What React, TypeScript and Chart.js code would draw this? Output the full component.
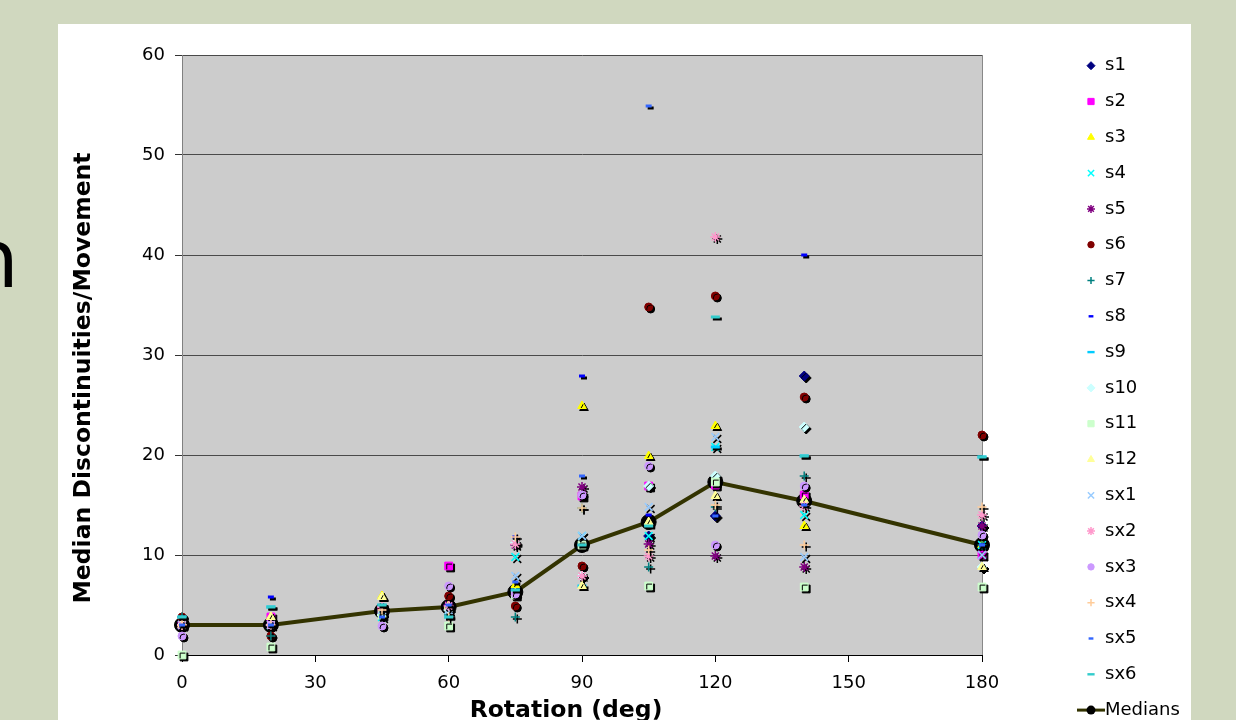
import React, { useEffect, useRef } from "react";
import { Chart, registerables } from "chart.js";
import { drawPoint } from "chart.js/helpers";

Chart.register(...registerables);

// ---------- data ----------
const rotations = [0, 20, 45, 60, 75, 90, 105, 120, 140, 180];
const xTickValues = [0, 30, 60, 90, 120, 150, 180];
const yTickValues = [0, 10, 20, 30, 40, 50, 60];

const s1 = [3, 3, 4, 5, 6.5, 11, 11.9, 13.9, 27.9, 12.9];
const s2 = [3, 3.8, 4.5, 8.9, 6.2, 15.9, 16.9, 17, 16, 10];
const s3 = [3.2, 3.8, 5.9, 5, 7, 24.9, 19.9, 22.9, 12.9, 11];
const s4 = [3, 3, 3.8, 4.5, 9.8, 11.9, 11.9, 20.8, 14, 11];
const s5 = [3, 3, 4.5, 5, 11, 16.8, 11.1, 9.9, 8.8, 12.9];
const s6 = [3.8, 1.9, 4.5, 5.9, 4.9, 8.9, 34.8, 35.9, 25.8, 22];
const s7 = [3.8, 1.9, 4.5, 4, 3.8, 14.7, 8.8, 14.8, 17.9, 11];
const s8 = [3, 5.8, 4, 5, 11.8, 27.9, 14, 17.5, 40, 11];
const s9 = [3.8, 4.8, 5, 3.8, 6.5, 6.9, 13, 20.8, 19.9, 19.8];
const s10 = [3, 3, 4, 4.5, 11.2, 7.9, 16.9, 17.9, 22.8, 8.8];
const s11 = [0, 0.8, 4, 2.9, 6, 11, 6.9, 17.3, 6.8, 6.8];
const s12 = [3, 3.8, 5.8, 4.9, 6.2, 6.9, 13.3, 15.9, 15.5, 8.8];
const sx1 = [3, 3, 4.5, 4.5, 7.9, 11.9, 14.8, 21.8, 9.8, 10];
const sx2 = [3, 3, 4.8, 4.9, 11.1, 7.9, 9.9, 41.8, 14.9, 14];
const sx3 = [1.9, 3, 2.9, 6.9, 6.1, 16, 18.9, 11, 16.9, 12];
const sx4 = [3, 3, 4.5, 3.8, 11.8, 14.7, 10.5, 15, 11, 14.8];
const sx5 = [3, 3, 3.8, 5, 7.3, 17.9, 54.9, 13.9, 15, 11];
const sx6 = [3.8, 4.8, 5, 3.8, 6.5, 11, 12.9, 33.8, 19.9, 19.8];
const medians = [3, 3, 4.4, 4.8, 6.3, 11, 13.3, 17.3, 15.4, 11];

const seriesNames = ["s1", "s2", "s3", "s4", "s5", "s6", "s7", "s8", "s9", "s10", "s11", "s12", "sx1", "sx2", "sx3", "sx4", "sx5", "sx6"];
const seriesValues = [s1, s2, s3, s4, s5, s6, s7, s8, s9, s10, s11, s12, sx1, sx2, sx3, sx4, sx5, sx6];
const medianLabel = "Medians";

const xTitle = "Rotation (deg)";
const yTitle = "Median Discontinuities/Movement";

// ---------- styles ----------
const seriesColors = ["#000080", "#FF00FF", "#FFFF00", "#00FFFF", "#800080", "#800000", "#008080", "#0000FF", "#00CCFF", "#CCFFFF", "#CCFFCC", "#FFFF99", "#99CCFF", "#FF99CC", "#CC99FF", "#FFCC99", "#3366FF", "#33CCCC"];
const markerShapes = ["rectRot", "rect", "triangle", "crossRot", "star", "circle", "cross", "line", "line", "rectRot", "rect", "triangle", "crossRot", "star", "circle", "cross", "line", "line"];
const markerRadii = [5, 5.5, 5, 5.5, 5, 4, 4.5, 3, 4.5, 5, 5.5, 5, 5.5, 5, 4, 4.5, 3, 4.5];
const markerBorders = [1, 1, 1, 1.5, 1.5, 1, 1.5, 3, 3, 1, 1, 1, 1.5, 1.5, 1, 1.5, 3, 3];
const medianLineColor = "#333300";

const FONT = "'DejaVu Sans', Verdana, sans-serif";
const PAGE_BG = "#d0d8bf";
const PLOT_BG = "#cccccc";

const LEGEND_X = 1091;
const LEGEND_TEXT_X = 1105;
const LEGEND_TOP = 65.7;
const LEGEND_STEP = 35.8;

const decorPlugin = {
  id: "decor",
  beforeDraw(chart: any) {
    const { ctx, chartArea } = chart;
    ctx.save();
    ctx.fillStyle = PAGE_BG;
    ctx.fillRect(0, 0, chart.width, chart.height);
    ctx.fillStyle = "#ffffff";
    ctx.fillRect(58, 24, 1133, 720 - 24);
    ctx.fillStyle = "#000";
    ctx.font = `80px ${FONT}`;
    ctx.textBaseline = "alphabetic";
    ctx.textAlign = "left";
    ctx.fillText("n", -32, 287);
    ctx.fillStyle = PLOT_BG;
    ctx.fillRect(chartArea.left, chartArea.top, chartArea.right - chartArea.left, chartArea.bottom - chartArea.top);
    ctx.strokeStyle = "#888888";
    ctx.lineWidth = 1;
    ctx.beginPath();
    ctx.moveTo(Math.round(chartArea.right) + 0.5, chartArea.top);
    ctx.lineTo(Math.round(chartArea.right) + 0.5, chartArea.bottom);
    ctx.stroke();
    ctx.restore();
  },
  beforeDatasetDraw(chart: any, args: any) {
    const ds = chart.data.datasets[args.index];
    const ctx = chart.ctx;
    ctx.save();
    if (ds.label !== medianLabel) {
      ctx.shadowColor = "rgba(0,0,0,1)";
      ctx.shadowOffsetX = 2;
      ctx.shadowOffsetY = 2;
      ctx.shadowBlur = 0;
    }
  },
  afterDatasetDraw(chart: any) {
    chart.ctx.restore();
  },
  afterDraw(chart: any) {
    const ctx = chart.ctx;
    ctx.save();
    // axis titles
    ctx.fillStyle = "#000";
    ctx.font = `bold 23.5px ${FONT}`;
    ctx.textAlign = "center";
    ctx.textBaseline = "alphabetic";
    ctx.fillText(xTitle, 566, 717);
    ctx.save();
    ctx.translate(90, 378);
    ctx.rotate(-Math.PI / 2);
    ctx.fillText(yTitle, 0, 0);
    ctx.restore();

    // legend
    ctx.font = `18px ${FONT}`;
    ctx.textAlign = "left";
    ctx.textBaseline = "middle";
    seriesNames.forEach((name, i) => {
      const y = LEGEND_TOP + i * LEGEND_STEP;
      ctx.fillStyle = seriesColors[i];
      ctx.strokeStyle = seriesColors[i];
      ctx.lineWidth = markerBorders[i] * (markerShapes[i] === "line" ? 0.8 : 1);
      drawPoint(ctx, { pointStyle: markerShapes[i], radius: markerRadii[i] * 0.8, rotation: 0, borderWidth: markerBorders[i] } as any, LEGEND_X, y);
      ctx.fillStyle = "#000";
      ctx.fillText(name, LEGEND_TEXT_X, y);
    });
    const my = LEGEND_TOP + seriesNames.length * LEGEND_STEP;
    ctx.strokeStyle = medianLineColor;
    ctx.lineWidth = 3;
    ctx.beginPath();
    ctx.moveTo(1077, my);
    ctx.lineTo(1105, my);
    ctx.stroke();
    ctx.fillStyle = "#000";
    ctx.beginPath();
    ctx.arc(LEGEND_X, my, 4.5, 0, Math.PI * 2);
    ctx.fill();
    ctx.fillText(medianLabel, LEGEND_TEXT_X, my);
    ctx.restore();
  },
};

export default function App() {
  const ref = useRef<HTMLCanvasElement>(null);
  useEffect(() => {
    const canvas = ref.current!;
    const datasets: any[] = seriesNames.map((name, i) => ({
      label: name,
      data: rotations.map((x, j) => ({ x, y: seriesValues[i][j] })),
      pointStyle: markerShapes[i],
      pointRadius: markerRadii[i],
      pointHoverRadius: markerRadii[i],
      borderColor: seriesColors[i],
      backgroundColor: seriesColors[i],
      pointBorderWidth: markerBorders[i],
      showLine: false,
      clip: false,
      order: -i,
    }));
    datasets.push({
      label: medianLabel,
      data: rotations.map((x, j) => ({ x, y: medians[j] })),
      showLine: true,
      borderColor: medianLineColor,
      borderWidth: 4,
      pointStyle: "circle",
      pointRadius: 7.5,
      pointHoverRadius: 7.5,
      pointBackgroundColor: "#000",
      pointBorderColor: "#000",
      pointBorderWidth: 1,
      clip: false,
      order: 100,
    });

    const chart = new Chart(canvas, {
      type: "scatter",
      data: { datasets },
      plugins: [decorPlugin],
      options: {
        animation: false,
        responsive: false,
        devicePixelRatio: 1,
        events: [],
        layout: { autoPadding: false, padding: { left: 68, right: 254, top: 55, bottom: 0 } },
        plugins: { legend: { display: false }, tooltip: { enabled: false }, title: { display: false } },
        scales: {
          x: {
            type: "linear",
            min: 0,
            max: 180,
            afterBuildTicks: (s: any) => {
              s.ticks = xTickValues.map((v) => ({ value: v }));
            },
            afterFit: (s: any) => {
              s.height = 65;
            },
            ticks: { color: "#000", font: { family: FONT, size: 18 }, padding: 11, maxRotation: 0, autoSkip: false },
            grid: { drawOnChartArea: false, drawTicks: true, tickLength: 7, color: "#000", tickColor: "#000" },
            border: { color: "#000", width: 1 },
          },
          y: {
            type: "linear",
            min: 0,
            max: 60,
            afterBuildTicks: (s: any) => {
              s.ticks = yTickValues.map((v) => ({ value: v }));
            },
            afterFit: (s: any) => {
              s.width = 114;
            },
            ticks: { color: "#000", font: { family: FONT, size: 18 }, padding: 10, autoSkip: false },
            grid: { color: "#4a4a4a", lineWidth: 1, tickLength: 7, tickColor: "#333333" },
            border: { color: "#808080", width: 1 },
          },
        },
      } as any,
    });
    return () => chart.destroy();
  }, []);

  return (
    <div style={{ position: "fixed", left: 0, top: 0, width: 1236, height: 720, overflow: "hidden" }}>
      <canvas ref={ref} width={1236} height={720} style={{ display: "block" }} />
    </div>
  );
}
